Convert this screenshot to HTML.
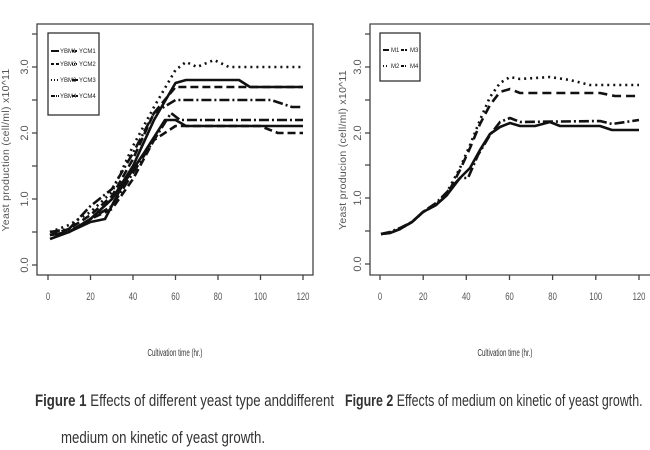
<!DOCTYPE html>
<html><head><meta charset="utf-8"><style>
body{margin:0;background:#fff;}
svg{display:block;font-family:"Liberation Sans",sans-serif;}
</style></head><body>
<svg width="650" height="450" viewBox="0 0 650 450" xmlns="http://www.w3.org/2000/svg">
<rect width="650" height="450" fill="#fff"/>
<g stroke="#444" fill="none" stroke-width="1.3">
<rect x="37" y="24" width="276" height="251"/>
<path d="M48,275v5 M90.5,275v5 M133,275v5 M175.5,275v5 M218,275v5 M260.5,275v5 M303,275v5"/>
<path d="M37,265h-5 M37,232h-5 M37,199h-5 M37,166h-5 M37,133h-5 M37,100h-5 M37,67h-5 M37,34h-5"/>
<path d="M652,24H370V275H652"/>
<path d="M380,275v5 M423.2,275v5 M466.3,275v5 M509.5,275v5 M552.6,275v5 M595.8,275v5 M639,275v5"/>
<path d="M370,264h-5 M370,231h-5 M370,198h-5 M370,165h-5 M370,133h-5 M370,100h-5 M370,67h-5 M370,34h-5"/>
</g>
<g font-size="11" fill="#555" text-anchor="middle">
<g transform="scale(0.7,1)">
<text x="68.6" y="300">0</text><text x="129.3" y="300">20</text><text x="190" y="300">40</text><text x="250.7" y="300">60</text><text x="311.4" y="300">80</text><text x="372.1" y="300">100</text><text x="432.9" y="300">120</text>
<text x="542.9" y="300">0</text><text x="604.6" y="300">20</text><text x="666.1" y="300">40</text><text x="727.9" y="300">60</text><text x="789.4" y="300">80</text><text x="851.1" y="300">100</text><text x="912.9" y="300">120</text>
</g>
<text transform="translate(28,265) rotate(-90)">0.0</text>
<text transform="translate(28,199) rotate(-90)">1.0</text>
<text transform="translate(28,133) rotate(-90)">2.0</text>
<text transform="translate(28,67) rotate(-90)">3.0</text>
<text transform="translate(361,264) rotate(-90)">0.0</text>
<text transform="translate(361,198) rotate(-90)">1.0</text>
<text transform="translate(361,133) rotate(-90)">2.0</text>
<text transform="translate(361,67) rotate(-90)">3.0</text>
<text transform="translate(9,150) rotate(-90)" font-size="10.5" letter-spacing="0.3">Yeast production (cell/ml) x10^11</text>
<text transform="translate(346,150) rotate(-90)" font-size="10.5" letter-spacing="0.3">Yeast producion (cell/ml) x10^11</text>
</g>
<g font-size="10" fill="#333" text-anchor="middle">
<text transform="translate(175,356) scale(0.62,1)">Cultivation time (hr.)</text>
<text transform="translate(505,356) scale(0.62,1)">Cultivation time (hr.)</text>
</g>
<g font-size="17" fill="#333">
<text transform="translate(35,406) scale(0.78,1)"><tspan font-weight="bold">Figure 1</tspan> Effects of different yeast type anddifferent</text>
<text transform="translate(61,443) scale(0.78,1)">medium on kinetic of yeast growth.</text>
<text transform="translate(345,406) scale(0.73,1)"><tspan font-weight="bold">Figure 2</tspan> Effects of medium on kinetic of yeast growth.</text>
</g>
<g fill="none" stroke="#111" stroke-width="2.6" stroke-linejoin="round">
<polyline stroke-dasharray="2,4" points="50,232 69,225 90.5,212 112,192 133,146 154,107 175.5,70 186,62 197,67 214,60 229,67 303,67"/>
<polyline points="50,235 69,232 90.5,219 112,199 133,166 154,120 175.5,83 186,80 239,80 250,87 303,87"/>
<polyline stroke-dasharray="8,4" points="50,235 69,229 90.5,215 112,196 133,159 154,113 175.5,87 303,87"/>
<polyline stroke-dasharray="10,3,2,3" points="50,232 69,229 90.5,206 112,189 133,153 154,113 175.5,100 271,100 292,107 303,107"/>
<polyline points="50,239 69,232 90.5,222 105,219 122,186 144,153 165,120 175.5,120 186,126 260,126 303,126"/>
<polyline stroke-dasharray="10,3,2,3" points="50,235 69,232 90.5,219 112,206 133,173 154,140 171,113 180,120 303,120"/>
<polyline stroke-dasharray="8,4" points="50,235 69,232 90.5,219 112,209 133,179 154,140 175.5,126 260,126 278,133 303,133"/>
</g>
<rect x="48" y="33" width="51" height="82" fill="#fff" stroke="#222" stroke-width="1.2"/>
<g stroke="#111" stroke-width="2" fill="none">
<path d="M51,51h8"/><path d="M51,64h8" stroke-dasharray="3,2"/><path d="M51,80h8" stroke-dasharray="1,2"/><path d="M51,96h8" stroke-dasharray="4,1,1,1"/>
<path d="M72,51h6" stroke-dasharray="2,1"/><path d="M72,64h6" stroke-dasharray="1,1"/><path d="M72,80h6"/><path d="M72,96h6" stroke-dasharray="3,1"/>
</g>
<g font-size="6" fill="#222">
<text x="60" y="53">YBM1</text><text x="79" y="53">YCM1</text>
<text x="60" y="66">YBM2</text><text x="79" y="66">YCM2</text>
<text x="60" y="82">YBM3</text><text x="79" y="82">YCM3</text>
<text x="60" y="98">YBM4</text><text x="79" y="98">YCM4</text>
</g>
<g fill="none" stroke="#111" stroke-width="2.6" stroke-linejoin="round">
<polyline points="381,234 390,233 400,229 412,222 423,212 436,205 447,195 460,178 470,168 480,150 490,134 500,127 510,123 520,126 535,126 550,122 560,126 600,126 612,130 639,130"/>
<polyline stroke-dasharray="9,5" points="381,234 390,233 400,229 412,222 423,212 436,205 447,195 460,170 470,148 480,124 490,105 500,92 510,89 520,93 600,93 615,96 639,96"/>
<polyline stroke-dasharray="2,4" points="381,234 390,233 400,229 412,222 423,212 436,205 447,192 460,168 470,145 480,120 490,97 500,83 510,77 520,79 550,77 570,80 590,85 639,85"/>
<polyline stroke-dasharray="10,3,2,3" points="381,234 390,232 400,228 412,222 423,212 436,203 447,192 460,178 468,178 478,155 490,135 500,122 510,118 520,122 600,121 612,124 639,120"/>
</g>
<rect x="380" y="33" width="40" height="48" fill="#fff" stroke="#222" stroke-width="1.2"/>
<g stroke="#111" stroke-width="2" fill="none">
<path d="M383,50h6"/><path d="M383,66h6" stroke-dasharray="1,2"/>
<path d="M401,50h6" stroke-dasharray="3,1"/><path d="M401,66h6" stroke-dasharray="3,1,1,1"/>
</g>
<g font-size="6" fill="#222">
<text x="391" y="52">M1</text><text x="410" y="52">M3</text>
<text x="391" y="68">M2</text><text x="410" y="68">M4</text>
</g>
</svg>
</body></html>
